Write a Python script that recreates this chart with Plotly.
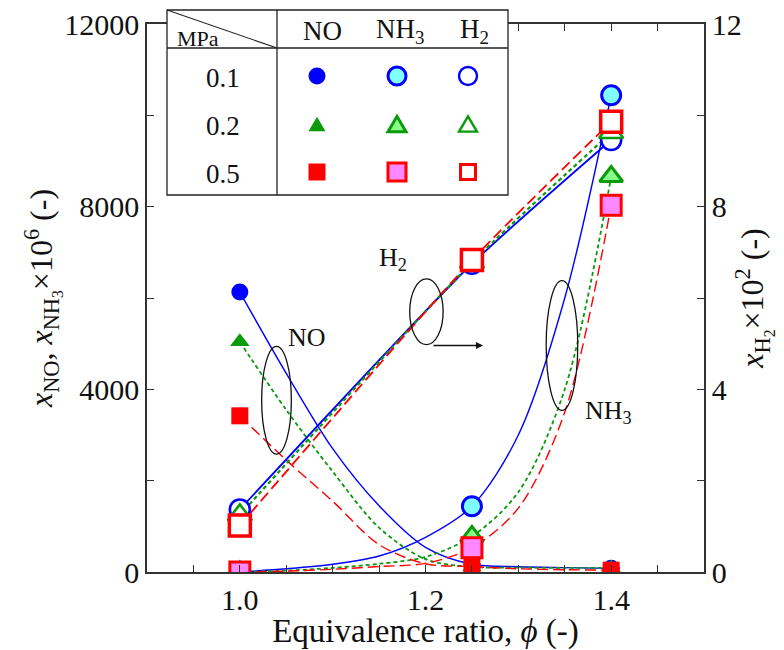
import plotly.graph_objects as go

# Measured points: equivalence ratio vs. mole fractions at three pressures
phi = [1.0, 1.25, 1.4]
pressures = ["0.1", "0.2", "0.5"]

no_01 = [6130, 170, 80]
no_02 = [5040, 110, 90]
no_05 = [3420, 120, 40]

nh3_01 = [0, 1440, 10440]
nh3_02 = [0, 780, 8660]
nh3_05 = [0, 530, 8030]

h2_01 = [1.37, 6.75, 9.46]
h2_02 = [1.25, 6.78, 9.62]
h2_05 = [1.02, 6.83, 9.86]

# Smooth trend curves
phi_curve = [1.0, 1.05, 1.1, 1.15, 1.2, 1.25, 1.3, 1.35, 1.4]
no_curve_01 = [6130, 4350, 2700, 1450, 540, 170, 115, 95, 80]
no_curve_02 = [5040, 3550, 2200, 970, 280, 110, 95, 90, 90]
no_curve_05 = [3420, 2450, 1550, 600, 180, 120, 70, 50, 40]
nh3_curve_01 = [0, 70, 170, 350, 760, 1440, 3000, 6000, 10440]
nh3_curve_02 = [0, 30, 90, 180, 330, 780, 1750, 4000, 8660]
nh3_curve_05 = [0, 20, 60, 120, 190, 530, 1400, 3500, 8030]

SERIF = "Liberation Serif, Times New Roman, serif"
BLUE, GREEN, RED = "#0000ff", "#0a9a0a", "#ff0000"
CYAN, LGREEN, PINK = "#80ffff", "#88ff88", "#ff88ff"

series = [
    dict(col=BLUE, dash="solid", lw=1.4, no=no_01, nh3=nh3_01, h2=h2_01,
         noc=no_curve_01, nh3c=nh3_curve_01, sym="circle", fill=CYAN),
    dict(col=GREEN, dash="4px,3px", lw=1.8, no=no_02, nh3=nh3_02, h2=h2_02,
         noc=no_curve_02, nh3c=nh3_curve_02, sym="triangle-up", fill=LGREEN),
    dict(col=RED, dash="11px,5px", lw=1.4, no=no_05, nh3=nh3_05, h2=h2_05,
         noc=no_curve_05, nh3c=nh3_curve_05, sym="square", fill=PINK),
]

fig = go.Figure()

for s in series:
    line = dict(color=s["col"], width=s["lw"], dash=s["dash"], shape="spline", smoothing=0.9)
    fig.add_trace(go.Scatter(x=phi_curve, y=s["noc"], mode="lines", line=line, hoverinfo="skip"))
    fig.add_trace(go.Scatter(x=phi_curve, y=s["nh3c"], mode="lines", line=line, hoverinfo="skip"))
    fig.add_trace(go.Scatter(x=phi, y=s["h2"], mode="lines", yaxis="y2",
                             line=dict(color=s["col"], width=s["lw"] + 0.4, dash=s["dash"],
                                       shape="spline", smoothing=0.6), hoverinfo="skip"))

for s in series:
    big = 21 if s["sym"] != "circle" else 20
    # H2: open markers on the right axis
    fig.add_trace(go.Scatter(
        x=phi, y=s["h2"], mode="markers", yaxis="y2",
        marker=dict(symbol=s["sym"], size=big, color="white",
                    line=dict(color=s["col"], width=3.5 if s["sym"] == "square" else 2.6))))
    # NH3: tinted markers
    fig.add_trace(go.Scatter(
        x=phi, y=s["nh3"], mode="markers",
        marker=dict(symbol=s["sym"], size=big - 1, color=s["fill"],
                    line=dict(color=s["col"], width=3))))
    # NO: solid markers
    fig.add_trace(go.Scatter(
        x=phi, y=s["no"], mode="markers",
        marker=dict(symbol=s["sym"], size=17, color=s["col"], line=dict(width=0))))

# ---- pixel helpers for the key table
W, H = 784, 650
ML, MR, MT, MB = 147, 80, 8, 78
PW, PH = W - ML - MR, H - MT - MB


def px(x):
    return (x - ML) / PW


def py(y):
    return (H - MB - y) / PH


shapes = []
annotations = []


def note(text, x, y, font, xref="paper", yref="paper"):
    return dict(text=text, x=x, y=y, xref=xref, yref=yref, showarrow=False,
                xanchor="center", yanchor="middle", font=font)


# key table frame
T_L, T_R, T_T, T_B = 167, 508, 10, 195
HDR, DIV = 48, 277
shapes.append(dict(type="rect", xref="paper", yref="paper", x0=px(T_L), x1=px(T_R),
                   y0=py(T_B), y1=py(T_T), fillcolor="white",
                   line=dict(color="#222", width=1.3), layer="above"))
shapes.append(dict(type="line", xref="paper", yref="paper", x0=px(T_L), x1=px(T_R),
                   y0=py(HDR), y1=py(HDR), line=dict(color="#222", width=1.3), layer="above"))
shapes.append(dict(type="line", xref="paper", yref="paper", x0=px(DIV), x1=px(DIV),
                   y0=py(T_B), y1=py(T_T), line=dict(color="#222", width=1.3), layer="above"))
shapes.append(dict(type="line", xref="paper", yref="paper", x0=px(T_L), x1=px(DIV),
                   y0=py(T_T), y1=py(HDR), line=dict(color="#222", width=1.1), layer="above"))

tfont = dict(family=SERIF, size=27, color="#111")
annotations.append(note("MPa", px(198), py(38), dict(family=SERIF, size=22, color="#111")))
for lab, cx in zip(["NO", "NH<sub>3</sub>", "H<sub>2</sub>"], [322, 400, 474]):
    annotations.append(note(lab, px(cx), py(31), tfont))
row_y = [76, 124, 172]
for lab, ry in zip(pressures, row_y):
    annotations.append(note(lab, px(223), py(ry + 2), tfont))

col_x = [317, 397, 468]


def glyph(sym, cx, cy, size, fill, edge, ew):
    base = dict(xref="paper", yref="paper", xsizemode="pixel", ysizemode="pixel",
                xanchor=px(cx), yanchor=py(cy), fillcolor=fill,
                line=dict(color=edge, width=ew), layer="above")
    r = size / 2
    if sym == "circle":
        return dict(type="circle", x0=-r, x1=r, y0=-r, y1=r, **base)
    if sym == "square":
        return dict(type="rect", x0=-r, x1=r, y0=-r, y1=r, **base)
    h = size * 0.85
    return dict(type="path", path=f"M {-r},{-h/2} L {r},{-h/2} L 0,{h/2} Z", **base)


for s, ry in zip(series, row_y):
    shapes.append(glyph(s["sym"], col_x[0], ry, 17, s["col"], s["col"], 0))
    shapes.append(glyph(s["sym"], col_x[1], ry, 18, s["fill"], s["col"], 3))
    hs = 15 if s["sym"] == "square" else 18
    shapes.append(glyph(s["sym"], col_x[2], ry, hs, "white", s["col"], 3 if s["sym"] == "square" else 2.4))

# group ellipses
ell = dict(type="circle", xref="x", yref="y", line=dict(color="#111", width=1.3), layer="above")
shapes.append(dict(x0=1.0235, x1=1.0555, y0=2580, y1=4940, **ell))
shapes.append(dict(x0=1.183, x1=1.219, y0=4980, y1=6420, **ell))
shapes.append(dict(x0=1.330, x1=1.364, y0=3540, y1=6380, **ell))

afont = dict(family=SERIF, size=26, color="#111")
annotations.append(note("NO", 1.072, 5140, afont, "x", "y"))
annotations.append(note("H<sub>2</sub>", 1.165, 6850, afont, "x", "y"))
annotations.append(note("NH<sub>3</sub>", 1.397, 3500, afont, "x", "y"))
annotations.append(dict(text="", x=1.262, y=4960, ax=1.207, ay=4960, xref="x", yref="y",
                        axref="x", ayref="y", showarrow=True, arrowhead=2, arrowsize=1.1,
                        arrowwidth=1.3, arrowcolor="#111"))

tick_font = dict(family=SERIF, size=30, color="#111")
ytitle_font = dict(family=SERIF, size=32, color="#111")
ydom = [0, py(24)]

fig.update_layout(
    width=W, height=H,
    margin=dict(l=ML, r=MR, t=MT, b=MB),
    paper_bgcolor="white", plot_bgcolor="white",
    showlegend=False,
    font=dict(family=SERIF, color="#111"),
    shapes=shapes, annotations=annotations,
    xaxis=dict(range=[0.9, 1.5], tick0=1.0, dtick=0.2, tickformat=".1f",
               ticks="inside", ticklen=7, tickcolor="#333", showline=True,
               linecolor="#333", linewidth=1.5, mirror="allticks", showgrid=False,
               zeroline=False, tickfont=tick_font, automargin=False,
               minor=dict(dtick=0.05, ticks="inside", ticklen=7, tickcolor="#333"),
               title=dict(text="Equivalence ratio, <i>ϕ</i> (-)",
                          font=dict(family=SERIF, size=33, color="#111"), standoff=3)),
    yaxis=dict(range=[0, 12000], domain=ydom, dtick=4000, tickformat="d",
               ticks="inside", ticklen=7,
               tickcolor="#333", showline=True, linecolor="#333", linewidth=1.5,
               showgrid=False, zeroline=False, tickfont=tick_font, automargin=False,
               minor=dict(dtick=2000, ticks="inside", ticklen=7, tickcolor="#333"),
               title=dict(text="<i>x</i><sub>NO</sub>, <i>x</i><sub>NH<sub>3</sub></sub>×10<sup>6</sup> (-)",
                          font=ytitle_font, standoff=2)),
    yaxis2=dict(range=[0, 12], domain=ydom, overlaying="y", side="right", dtick=4,
                tickformat="d",
                ticks="inside", ticklen=7, tickcolor="#333", showline=True,
                linecolor="#333", linewidth=1.5, showgrid=False, zeroline=False,
                tickfont=tick_font, automargin=False,
                minor=dict(dtick=2, ticks="inside", ticklen=7, tickcolor="#333"),
                title=dict(text="<i>x</i><sub>H<sub>2</sub></sub>×10<sup>2</sup> (-)",
                           font=ytitle_font, standoff=0)),
)

fig.write_html("out.html")
